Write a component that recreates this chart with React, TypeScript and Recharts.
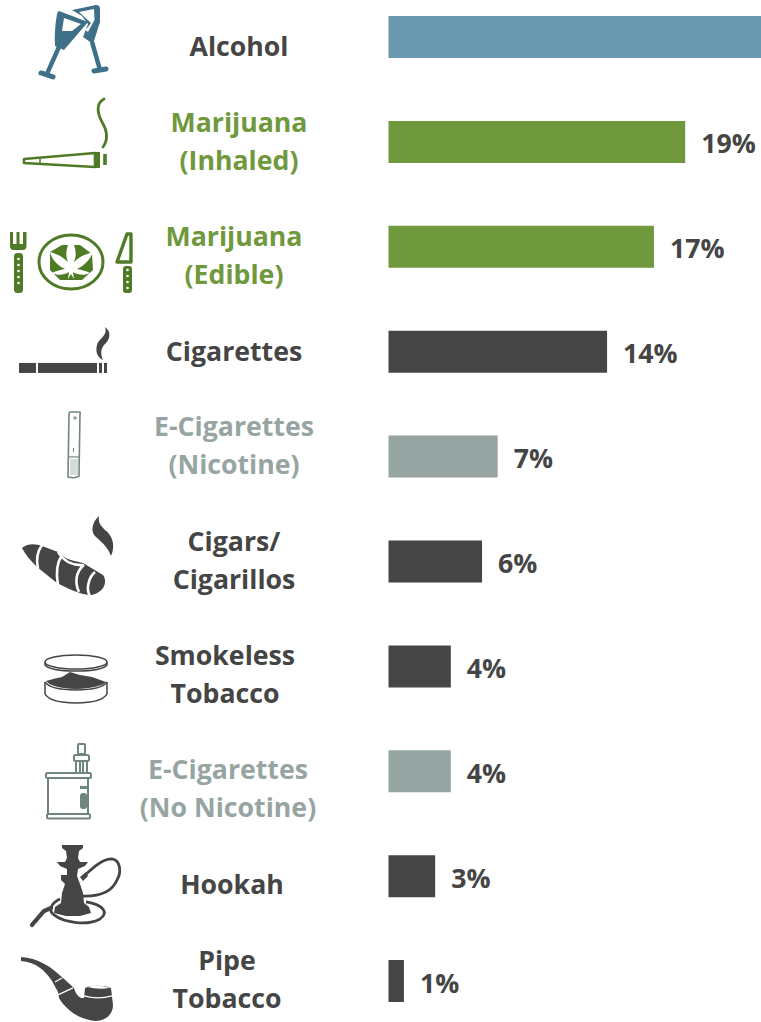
import React from "react";
import { BarChart, Bar, XAxis, YAxis, Cell, LabelList } from "recharts";

const categories = ["Alcohol", "Marijuana (Inhaled)", "Marijuana (Edible)", "Cigarettes", "E-Cigarettes (Nicotine)", "Cigars/ Cigarillos", "Smokeless Tobacco", "E-Cigarettes (No Nicotine)", "Hookah", "Pipe Tobacco"];
const labelLines = [["Alcohol"], ["Marijuana", "(Inhaled)"], ["Marijuana", "(Edible)"], ["Cigarettes"], ["E-Cigarettes", "(Nicotine)"], ["Cigars/", "Cigarillos"], ["Smokeless", "Tobacco"], ["E-Cigarettes", "(No Nicotine)"], ["Hookah"], ["Pipe", "Tobacco"]];
// Alcohol runs off the right edge of the picture; its value is an estimate above the visible range.
const values = [26, 19, 17, 14, 7, 6, 4, 4, 3, 1];
const valueLabels = ["", "19%", "17%", "14%", "7%", "6%", "4%", "4%", "3%", "1%"];

const BLUE = "#6a9ab1", BLUE_ICON = "#3f7089", GREEN = "#70983d", GREEN_ICON = "#4f7a26", DARK = "#454545", GREY = "#96a5a2", GREY_ICON = "#6f8580";
const barColors = [BLUE, GREEN, GREEN, DARK, GREY, DARK, DARK, GREY, DARK, DARK];
const textColors = [DARK, GREEN, GREEN, DARK, GREY, DARK, DARK, GREY, DARK, DARK];
const labelCenterX = [239, 239, 234, 234, 234, 234, 225, 228, 232, 227];
const labelFirstBaseline = [56, 132, 246, 361, 436.5, 551, 665, 779.5, 894, 970];
const LINE_GAP = 37.7;
const FONT = "'Open Sans', sans-serif";

const data = categories.map((category, i) => ({ category, value: values[i], label: valueLabels[i] }));

const dots = (x: number, ys: number[]) => ys.map((y) => <circle key={y} cx={x} cy={y} r={1.3} fill="#fff" />);

const icons: React.ReactNode[] = [
  <g key="a" fill={BLUE_ICON} stroke="none">
    <path d="M72,10 L96,5 Q100,5 100,9 L100,22 L93,44 L83,37 L88,24 L82,16 Z" />
    <path d="M59,11 L88,22 L64,50 L55,46 Q54,30 57,14 Q58,11 59,11 Z" />
    <path d="M64,18 L81,24 L72,31 L62,31 Z" fill="#fff" />
    <path d="M79,12 L94,9 L94.500,20 L88,32 L85.500,30 L91,23 Z" fill="#fff" />
    <path d="M59,47 L47,74 M92,42 L100,70" stroke={BLUE_ICON} strokeWidth={4.5} />
    <path d="M41,73 L53,77 M94,71 L106,69" stroke={BLUE_ICON} strokeWidth={5} strokeLinecap="round" />
  </g>,
  <g key="j" fill="none" stroke={GREEN_ICON}>
    <path d="M24,159 L95,153 L95,167 L24,163 Z" strokeWidth={2.6} strokeLinejoin="round" />
    <path d="M40,159 L40,163" strokeWidth={1.5} />
    <path d="M98,152 L98,168" strokeWidth={4} />
    <path d="M105,154 L105,165" strokeWidth={3.6} />
    <path d="M104,99 C96,103 97,113 102,122 C108,132 108,140 103,147" strokeWidth={2.8} strokeLinecap="round" />
  </g>,
  <g key="e">
    <path d="M10,232 h3 v12 h3.5 v-12 h3 v12 h3.5 v-12 h3.5 v14 q0,4 -4,4 h-9 q-3.500,0 -3.500,-4 Z" fill={GREEN_ICON} />
    <rect x={14} y={253} width={9} height={40} rx={3.5} fill={GREEN_ICON} />
    {dots(18.5, [259, 265, 271, 277, 283])}
    <ellipse cx={71} cy={262} rx={32} ry={27} fill="#fff" stroke={GREEN_ICON} strokeWidth={3} />
    <path d="M50,252 L62,245 L80,245 L92,254 L93,270 L82,280 L60,280 L50,270 Z" fill={GREEN_ICON} />
    <path d="M71,239 C76,247 77,255 74,262 C80,256 87,254 93,252 C90,260 84,266 77,269 C82,270 87,271 90,273 C84,276 78,275 73,272 L74,279 L71,274 L68,279 L69,272 C64,275 58,276 52,273 C55,271 60,270 65,269 C58,266 52,260 50,252 C56,254 62,256 68,262 C65,255 66,247 71,239 Z" fill="#fff" />
    <path d="M127,234 L117,262 H131 V234 Z" fill="#fff" stroke={GREEN_ICON} strokeWidth={3.4} strokeLinejoin="round" />
    <rect x={123} y={266} width={9} height={27} rx={3} fill={GREEN_ICON} />
    {dots(127.5, [270, 276, 282, 288])}
  </g>,
  <g key="c" fill={DARK}>
    <rect x={19} y={363} width={17} height={10} />
    <rect x={38} y={363} width={59} height={10} />
    <rect x={99} y={363} width={3} height={10} />
    <rect x={104} y={363} width={3} height={10} />
    <path d="M105,327 C112,332 110,340 104,345 C100,350 101,355 103,360 C98,358 95,352 97,345 C99,338 108,336 105,327 Z" />
  </g>,
  <g key="en" fill="none" stroke={GREY_ICON}>
    <path d="M69,414 Q69,412 71,412 H79 Q81,412 80,414 L79,476 Q75,479 68,477 Z" strokeWidth={1.6} />
    <path d="M68.500,457 H79.500" strokeWidth={1.2} />
    <rect x={70} y={459} width={8} height={16} fill="#d5dbd9" stroke="none" />
    <path d="M73.500,448 V452 M75,416 V420 M73,418 H77" strokeWidth={1} />
  </g>,
  <g key="cg" fill={DARK}>
    <path d="M22,548 C28,543 36,544 42,546 L58,552 C65,560 75,561 83,563 L103,575 C108,582 104,592 92,595 L90,595 C78,594 67,588 57,583 L37,567 C30,560 25,554 22,548 Z" />
    <path d="M42,545 C37,552 36,560 38,569 M62,555 C56,564 56,574 58,585 M84,565 C75,572 75,584 79,592 M58,552 C64,562 74,566 84,565 M95,572 C88,578 86,590 90,596" fill="none" stroke="#fff" strokeWidth={2.6} />
    <path d="M99,516 C92,522 90,532 96,537 C103,543 108,548 111,556 C116,545 112,535 105,530 C100,525 98,522 99,516 Z" />
  </g>,
  <g key="s" fill="#fff" stroke={DARK} strokeWidth={1.5}>
    <ellipse cx={76} cy={662} rx={31} ry={7} />
    <path d="M45,662 V665 Q50,671 76,671 Q102,671 107,665 V662" fill="none" />
    <path d="M45,682 V694 Q50,703 76,703 Q102,703 107,694 V682" />
    <path d="M46,681 Q56,678 62,677 L70,672 L80,675 L92,677 L106,682 Q100,688 76,689 Q52,688 46,681 Z" fill={DARK} stroke="none" />
    <path d="M45,682 Q50,690 76,690 Q102,690 107,682" fill="none" />
  </g>,
  <g key="en2" fill="#fff" stroke={GREY_ICON} strokeWidth={2}>
    <rect x={78} y={744} width={7} height={10} rx={1} />
    <rect x={74} y={755} width={15} height={6} rx={1.500} />
    <rect x={76} y={761} width={4} height={12} />
    <rect x={83} y={761} width={4} height={12} />
    <rect x={48} y={778} width={40} height={36} />
    <rect x={46} y={773} width={45} height={5} rx={1.500} />
    <rect x={47} y={814} width={43} height={4.500} rx={1.500} />
    <rect x={80} y={786} width={7} height={3} fill={GREY_ICON} stroke="none" />
    <rect x={80} y={793} width={7} height={16} rx={3} fill={GREY_ICON} stroke="none" />
  </g>,
  <g key="h" fill={DARK} stroke="none">
    <path d="M62,845 L83,845 L83,848 L79,851 L78,858 L80,862 L88,862 L85,866 L78,869 L77,876 L80,884 L83,893 L84,903 L89,907 L91,913 L80,916 L66,916 L54,913 L55,907 L61,903 L62,893 L65,884 L61,880 L61,875 L67,875 L67,869 L60,866 L57,862 L65,862 L67,858 L66,851 L62,848 Z" />
    <path d="M80,877 L83,881 L88,876 L86,872 Z" />
    <path d="M85,875 C95,866 103,859 112,859 C120,860 122,872 117,880 C112,892 98,897 80,896" fill="none" stroke={DARK} strokeWidth={2.8} />
    <path d="M60,899 C51,903 48,911 54,915 C64,923 88,926 100,919 C109,913 104,905 86,902" fill="none" stroke={DARK} strokeWidth={2.8} />
    <path d="M32,925 L44,911 L51,908" fill="none" stroke={DARK} strokeWidth={4.2} strokeLinecap="round" />
  </g>,
  <g key="p" fill={DARK}>
    <path d="M21,957 L21,961 C35,962 45,970 52,981 L58,992 L59,998 C66,1010 80,1020 96,1021 C106,1021 113,1014 113,1005 L111,988 C104,985 90,985 85,988 L84,998 C80,999 76,995 74,988 L63,978 C50,966 38,958 21,957 Z" />
    <path d="M55,982 L62,978 M58,995 L73,988 M84,996 Q98,1000 112,996" fill="none" stroke="#fff" strokeWidth={1.3} />
    <path d="M87,987 Q98,984 110,988 Q98,990 87,987 Z" fill="#fff" />
  </g>,
];

const CategoryTick = (props: any) => {
  const { y, index } = props;
  const i = index as number;
  const shift = y - (37.5 + 104.9 * i);
  return (
    <g transform={`translate(0,${shift})`}>
      {icons[i]}
      <text textAnchor="middle" fontFamily={FONT} fontWeight={700} fontSize={26.7} fill={textColors[i]}>
        {labelLines[i].map((line, k) => (
          <tspan key={line} x={labelCenterX[i]} y={labelFirstBaseline[i] + k * LINE_GAP}>{line}</tspan>
        ))}
      </text>
    </g>
  );
};

export default function App() {
  return (
    <div style={{ position: "absolute", left: 0, top: 0, width: 761, height: 1022, overflow: "hidden", background: "#fff" }}>
      <BarChart
        layout="vertical"
        width={761}
        height={1049}
        data={data}
        margin={{ top: 0, right: 0, bottom: 0, left: 0 }}
        style={{ position: "absolute", left: 0, top: -15 }}
      >
        <XAxis type="number" hide domain={[0, 23.85]} allowDataOverflow />
        <YAxis type="category" dataKey="category" width={388.3} axisLine={false} tickLine={false} interval={0} tick={<CategoryTick />} />
        <Bar dataKey="value" barSize={42} isAnimationActive={false}>
          {data.map((d, i) => <Cell key={d.category} fill={barColors[i]} />)}
          <LabelList dataKey="label" position="right" offset={16} dy={2} fill={DARK} fontFamily={FONT} fontWeight={700} fontSize={26.7} />
        </Bar>
      </BarChart>
    </div>
  );
}
